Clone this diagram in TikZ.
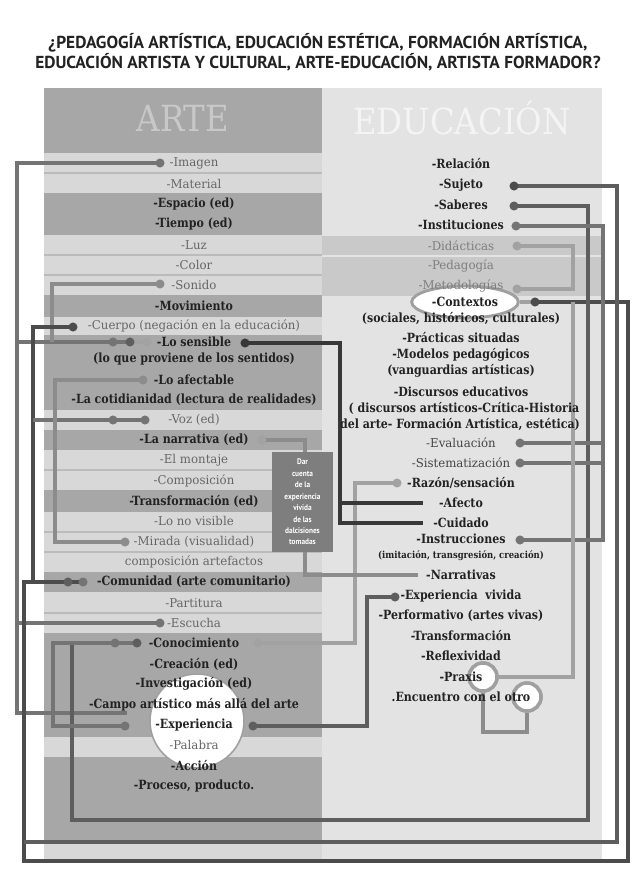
\documentclass[tikz,border=0pt]{standalone}
\usepackage{fontspec}
\setmainfont{DejaVu Serif}
\newfontfamily\slab{DejaVu Serif}[FakeStretch=0.97]
\newfontfamily\slabb{DejaVu Serif}[FakeStretch=0.87]
\newfontfamily\slabh{DejaVu Serif}[FakeStretch=0.9]
\newfontfamily\titlef{PT Sans}
\newfontfamily\boxf{PT Sans}[FakeStretch=0.9]
\usetikzlibrary{shapes.geometric}

\definecolor{bgDark}{HTML}{A7A7A7}
\definecolor{bgLight}{HTML}{D8D8D8}
\definecolor{bgSep}{HTML}{BBBBBB}
\definecolor{bgRight}{HTML}{E3E3E3}
\definecolor{bgBand}{HTML}{C9C9C9}
\definecolor{txDark}{HTML}{222222}
\definecolor{txGray}{HTML}{666666}
\definecolor{txRG}{HTML}{7E7E7E}
\definecolor{txRD}{HTML}{444444}
\definecolor{hdArte}{HTML}{C8C8C8}
\definecolor{hdEdu}{HTML}{F4F4F4}
\definecolor{lnK}{HTML}{383838}
\definecolor{lnA}{HTML}{4C4C4C}
\definecolor{lnB}{HTML}{5E5E5E}
\definecolor{lnC}{HTML}{747474}
\definecolor{lnD}{HTML}{8C8C8C}
\definecolor{lnE}{HTML}{A2A2A2}
\definecolor{boxGray}{HTML}{7E7E7E}
\definecolor{ringGray}{HTML}{A0A0A0}

\newcommand\tR{\slab\fontsize{9.1}{10}\selectfont}
\newcommand\tB{\slabb\bfseries\fontsize{9.5}{10}\selectfont}
\newcommand\tS{\slabb\bfseries\fontsize{7.3}{8}\selectfont}

\tikzset{
  ln/.style={line width=3.2pt, line join=miter},
  lt/.style={anchor=center, inner sep=0pt, font=\tR, text=txGray},
  lb/.style={anchor=center, inner sep=0pt, font=\tB, text=txDark},
  rb/.style={anchor=center, inner sep=0pt, font=\tB, text=txDark},
  rg/.style={anchor=center, inner sep=0pt, font=\tR, text=txRG},
  rd/.style={anchor=center, inner sep=0pt, font=\tR, text=txRD},
  rs/.style={anchor=center, inner sep=0pt, font=\tS, text=txDark},
  sepl/.style={line width=0.8pt, bgSep},
  ring/.style={circle, draw=ringGray, line width=2.6pt, fill=white, minimum size=21pt, inner sep=0pt},
  ttl/.style={anchor=center, inner sep=0pt, font=\titlef\bfseries\fontsize{13}{14}\selectfont, text=txDark},
}

\begin{document}
\begin{tikzpicture}[x=0.75pt,y=-0.75pt]
\useasboundingbox (0,0) rectangle (636,873);
\fill[white] (0,0) rectangle (636,873);

% title
\node[ttl] (title1) at (318,43) {¿PEDAGOGÍA ARTÍSTICA, EDUCACIÓN ESTÉTICA, FORMACIÓN ARTÍSTICA,};
\node[ttl] (title2) at (318,62) {EDUCACIÓN ARTISTA Y CULTURAL, ARTE-EDUCACIÓN, ARTISTA FORMADOR?};

% columns
\fill[bgRight] (322,88) rectangle (602,860);
\fill[bgBand] (322,236) rectangle (602,296);
\draw[line width=0.8pt, bgRight] (322,256) -- (602,256);
\foreach \a/\b in {88/153,193/235,295/317,335/410,430/450,490/512,572/592,633/737,757/842}
  \fill[bgDark] (44,\a) rectangle (322,\b);
\foreach \a/\b in {153/193,235/295,317/335,410/430,450/490,512/572,592/633,737/757,842/860}
  \fill[bgLight] (44,\a) rectangle (322,\b);
\foreach \y in {173,255,275,470,532,552,613}
  \draw[sepl] (44,\y) -- (322,\y);

\node[anchor=center, inner sep=0pt, font=\slabh\fontsize{27}{30}\selectfont, text=hdArte] (hArte) at (183,118) {ARTE};
\node[anchor=center, inner sep=0pt, font=\slabh\fontsize{27}{30}\selectfont, text=hdEdu] (hEdu) at (462,118) {EDUCACIÓN};

% big shapes
\node[circle, draw=ringGray, line width=1.2pt, fill=white, minimum size=70.5pt, inner sep=0pt] (cExp) at (197,721) {};
\node[ellipse, draw=ringGray, line width=2.2pt, fill=white, minimum width=80pt, minimum height=24pt, inner sep=0pt] (ctxEll) at (465,302) {};
\node[ring] (ringP) at (483,677) {};
\node[ring] (ringE) at (527,697) {};

% dot coordinates
\coordinate (dImg) at (160,163);
\coordinate (dSon) at (160,284);
\coordinate (dCue) at (73,327);
\coordinate (dSen1) at (113,342);
\coordinate (dSen2) at (130,342);
\coordinate (dSen3) at (147,342);
\coordinate (dSenR) at (245,343);
\coordinate (dAfe) at (143,380);
\coordinate (dVoz1) at (113,420);
\coordinate (dVoz2) at (145,420);
\coordinate (dNar) at (262,440);
\coordinate (dMir) at (125,542);
\coordinate (dCom1) at (68,582);
\coordinate (dCom2) at (83,582);
\coordinate (dEsc) at (160,623);
\coordinate (dCon1) at (115,643);
\coordinate (dCon2) at (137,643);
\coordinate (dConR) at (258,643);
\coordinate (dExpL) at (125,726);
\coordinate (dExpR) at (253,726);
\coordinate (eCampo) at (127,713);
\coordinate (dSuj) at (514,186);
\coordinate (dSab) at (514,206);
\coordinate (dIns) at (516,226);
\coordinate (dDid) at (517,246);
\coordinate (dMet) at (517,289);
\coordinate (dCtx) at (535,302);
\coordinate (dEva) at (520,443);
\coordinate (dSis) at (520,463);
\coordinate (dRaz) at (397,483);
\coordinate (eAfe) at (423,503);
\coordinate (eCui) at (423,523);
\coordinate (dIns2) at (520,540);
\coordinate (eNar) at (418,575);
\coordinate (dExv) at (395,597);

% connectors
\draw[ln, lnC] (dImg) -- (17,163) -- (17,713) -- (eCampo);
\draw[ln, lnC] (17,623) -- (dEsc);
\draw[ln, lnC] (17,342) -- (dSen2);
\draw[ln, lnE] (dSen2) -- (dSen3);
\draw[ln, lnD] (dSon) -- (52,284) -- (52,342);
\draw[ln, lnA] (dCue) -- (33,327) -- (33,582);
\draw[ln, lnC] (33,420) -- (dVoz2);
\draw[ln, lnD] (dAfe) -- (55,380) -- (55,542) -- (dMir);
\draw[ln, lnA] (dCom2) -- (24,582) -- (24,861) -- (628,861) -- (628,302) -- (dCtx);
\draw[ln, lnE] (ctxEll.east) -- (dCtx);
\draw[ln, lnB] (dSuj) -- (617,186) -- (617,842) -- (24,842);
\draw[ln, lnB] (dSab) -- (588,206) -- (588,820) -- (72,820) -- (72,643);
\draw[ln, lnC] (dCon2) -- (53,643) -- (53,726) -- (dExpL);
\draw[ln, lnC] (dIns) -- (603,226) -- (603,540) -- (dIns2);
\draw[ln, lnC] (dEva) -- (603,443);
\draw[ln, lnC] (dSis) -- (603,463);
\draw[ln, lnE] (dDid) -- (573,246) -- (573,289) -- (dMet);
\draw[ln, lnE] (ringP.east) -- (573,677) -- (573,302);
\draw[ln, lnD] (ringP.south) -- (483,732) -- (527,732) -- (ringE.south);
\draw[ln, lnE] (dRaz) -- (355,483) -- (355,643) -- (dConR);
\draw[ln, lnD] (dNar) -- (305,440) -- (305,575) -- (eNar);
\draw[ln, lnB] (dExv) -- (367,597) -- (367,726) -- (dExpR);
\draw[ln, lnK] (dSenR) -- (340,343) -- (340,523) -- (eCui);
\draw[ln, lnK] (340,503) -- (eAfe);

% dots
\foreach \d/\c in {dImg/lnC, dSon/lnD, dCue/lnA, dSen1/lnC, dSen2/lnB, dSen3/lnE, dSenR/lnK, dAfe/lnD, dVoz1/lnC, dVoz2/lnC, dNar/lnE, dMir/lnD, dCom1/lnB, dCom2/lnC, dEsc/lnC, dCon1/lnC, dCon2/lnB, dConR/lnE, dExpL/lnC, dExpR/lnB, dSuj/lnA, dSab/lnB, dIns/lnC, dDid/lnE, dMet/lnE, dCtx/lnA, dEva/lnC, dSis/lnC, dRaz/lnE, dIns2/lnC, dExv/lnB}
  \fill[\c] (\d) circle (3.4pt);

% redraw rings over line ends
\node[ring] at (ringP) {};
\node[ring] at (ringE) {};

% box
\node[fill=boxGray, text=white, font=\boxf\bfseries\fontsize{6.1}{8.6}\selectfont, align=center, minimum width=45.75pt, minimum height=75pt, inner sep=1pt] (darBox) at (302.5,502) {Dar\\cuenta\\de la\\experiencia\\vivida\\de las\\dalcisiones\\tomadas};

% left texts
\node[lt] (tImg) at (194,163) {-Imagen};
\node[lt] (tMat) at (194,184) {-Material};
\node[lb] (tEsp) at (194,204) {-Espacio (ed)};
\node[lb] (tTie) at (194,224) {-Tiempo (ed)};
\node[lt] (tLuz) at (194,245) {-Luz};
\node[lt] (tCol) at (194,265) {-Color};
\node[lt] (tSon) at (194,285) {-Sonido};
\node[lb] (tMov) at (194,306) {-Movimiento};
\node[lt] (tCue) at (194,326) {-Cuerpo (negación en la educación)};
\node[lb] (tSen) at (194,342) {-Lo sensible};
\node[lb] (tSen2) at (194,359) {(lo que proviene de los sentidos)};
\node[lb] (tAfe) at (194,380) {-Lo afectable};
\node[lb] (tCot) at (194,400) {-La cotidianidad (lectura de realidades)};
\node[lt] (tVoz) at (194,420) {-Voz (ed)};
\node[lb] (tNar) at (194,440) {-La narrativa (ed)};
\node[lt] (tMon) at (194,460) {-El montaje};
\node[lt] (tComp) at (194,481) {-Composición};
\node[lb] (tTra) at (194,501) {-Transformación (ed)};
\node[lt] (tNoV) at (194,521) {-Lo no visible};
\node[lt] (tMir) at (194,542) {-Mirada (visualidad)};
\node[lt] (tArt) at (194,562) {composición artefactos};
\node[lb] (tCom) at (194,582) {-Comunidad (arte comunitario)};
\node[lt] (tPar) at (194,603) {-Partitura};
\node[lt] (tEsc) at (194,623) {-Escucha};
\node[lb] (tCon) at (194,643) {-Conocimiento};
\node[lb] (tCre) at (194,664) {-Creación (ed)};
\node[lb] (tInv) at (194,684) {-Investigación (ed)};
\node[lb] (tCam) at (194,705) {-Campo artístico más allá del arte};
\node[lb] (tExp) at (194,725) {-Experiencia};
\node[lt] (tPal) at (194,745) {-Palabra};
\node[lb] (tAcc) at (194,766) {-Acción};
\node[lb] (tPro) at (194,786) {-Proceso, producto.};

% right texts
\node[rb] (rRel) at (461,164) {-Relación};
\node[rb] (rSuj) at (461,185) {-Sujeto};
\node[rb] (rSab) at (461,205) {-Saberes};
\node[rb] (rIns) at (461,225) {-Instituciones};
\node[rg] (rDid) at (461,246) {-Didácticas};
\node[rg] (rPed) at (461,266) {-Pedagogía};
\node[rg] (rMet) at (461,286) {-Metodologías};
\node[rb] (rCtx) at (465,302) {-Contextos};
\node[rb] (rCtx2) at (461,318) {(sociales, históricos, culturales)};
\node[rb] (rPra) at (461,338) {-Prácticas situadas};
\node[rb] (rMod) at (461,355) {-Modelos pedagógicos};
\node[rb] (rMod2) at (461,371) {(vanguardias artísticas)};
\node[rb] (rDis) at (461,392) {-Discursos educativos};
\node[rb] (rDis2) at (464,408) {( discursos artísticos-Crítica-Historia};
\node[rb] (rDis3) at (460,424) {del arte- Formación Artística, estética)};
\node[rd] (rEva) at (461,443) {-Evaluación};
\node[rd] (rSis) at (461,463) {-Sistematización};
\node[rb] (rRaz) at (461,483) {-Razón/sensación};
\node[rb] (rAfe) at (461,503) {-Afecto};
\node[rb] (rCui) at (461,523) {-Cuidado};
\node[rb] (rInst) at (461,539) {-Instrucciones};
\node[rs] (rInst2) at (461,556) {(imitación, transgresión, creación)};
\node[rb] (rNar) at (461,575) {-Narrativas};
\node[rb] (rExv) at (461,596) {-Experiencia\ \ vivida};
\node[rb] (rPer) at (461,616) {-Performativo (artes vivas)};
\node[rb] (rTra) at (461,636) {-Transformación};
\node[rb] (rRef) at (461,656) {-Reflexividad};
\node[rb] (rPrx) at (461,677) {-Praxis};
\node[rb] (rEnc) at (461,697) {.Encuentro con el otro};
\end{tikzpicture}
\end{document}
